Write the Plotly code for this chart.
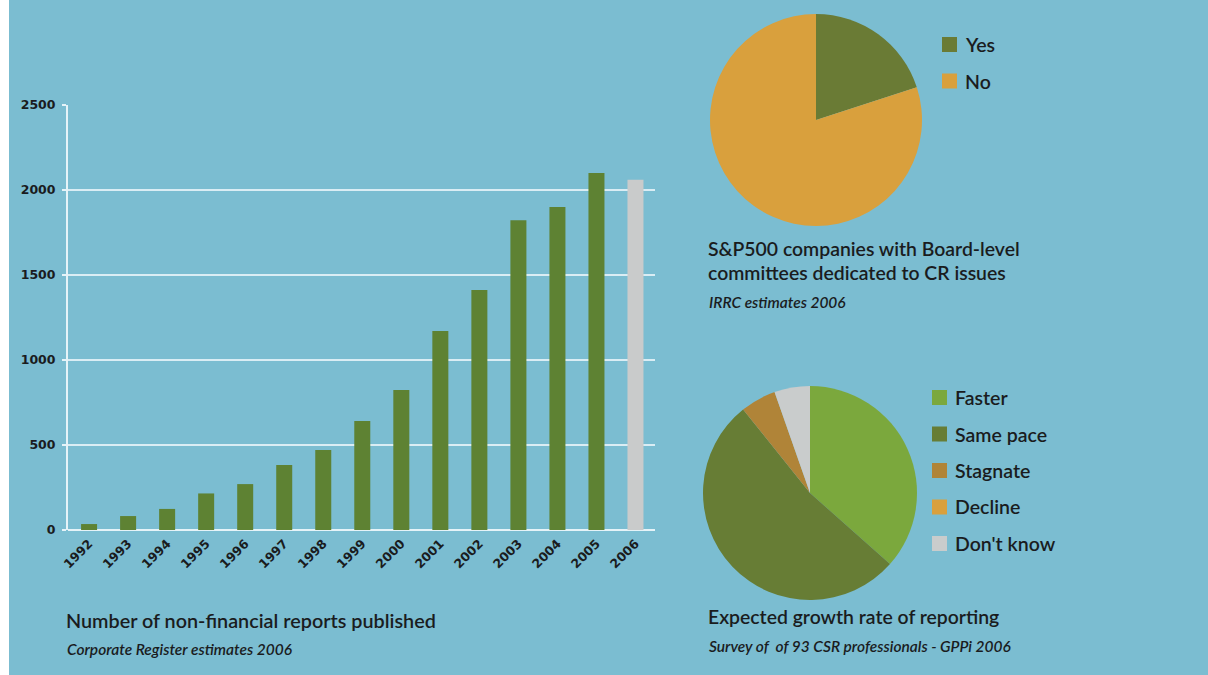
import plotly.graph_objects as go

W, H = 1208, 675

# ---- data ----
years = ["1992", "1993", "1994", "1995", "1996", "1997", "1998", "1999",
         "2000", "2001", "2002", "2003", "2004", "2005", "2006"]
reports = [35, 82, 124, 215, 270, 382, 470, 641, 824, 1170, 1412, 1822, 1900, 2100, 2060]
bar_colors = ["#5E8233"] * 14 + ["#C9CBCB"]

board_labels = ["Yes", "No"]
board_values = [20, 80]
board_colors = ["#6A7B35", "#D9A03D"]

growth_labels = ["Faster", "Same pace", "Stagnate", "Decline", "Don't know"]
growth_values = [34, 49, 5, 0, 5]
growth_colors = ["#7BA83D", "#677D35", "#B08438", "#D9A03D", "#C9CCCC"]

BG = "#7BBDD1"
TXT = "#1A1C1E"
FONT = "Lato"


def px(x):
    return x / W


def py(y):
    return 1 - y / H


fig = go.Figure()

fig.add_trace(go.Bar(
    x=years, y=reports, marker=dict(color=bar_colors, line=dict(width=0)),
    width=0.41, showlegend=False, hoverinfo="skip",
))

fig.add_trace(go.Pie(
    labels=board_labels, values=board_values, sort=False, direction="clockwise",
    rotation=0, marker=dict(colors=board_colors, line=dict(width=0)),
    textinfo="none", showlegend=False, hoverinfo="skip", automargin=False,
    domain=dict(x=[px(710), px(922)], y=[py(226), py(14)]),
))

fig.add_trace(go.Pie(
    labels=growth_labels, values=growth_values, sort=False, direction="clockwise",
    rotation=0, marker=dict(colors=growth_colors, line=dict(width=0)),
    textinfo="none", showlegend=False, hoverinfo="skip", automargin=False,
    domain=dict(x=[px(703), px(917)], y=[py(600), py(386)]),
))

fig.update_layout(
    width=W, height=H,
    margin=dict(l=0, r=0, t=0, b=0, autoexpand=False),
    paper_bgcolor=BG, plot_bgcolor=BG,
    font=dict(family=FONT, color=TXT),
    bargap=0.5,
    xaxis=dict(
        domain=[px(68), px(655)], range=[-0.54, 14.5], automargin=False,
        type="category", tickangle=-45,
        showgrid=False, showline=False, zeroline=False,
        ticks="", ticklabelstandoff=3,
        tickfont=dict(family="DejaVu Sans", size=12.5, color=TXT, weight="bold"),
    ),
    yaxis=dict(
        domain=[py(530), py(105)], range=[0, 2500], automargin=False,
        tickvals=[0, 500, 1000, 1500, 2000, 2500],
        showgrid=True, gridcolor="rgba(235,246,250,0.85)", gridwidth=2,
        showline=True, linecolor="rgba(235,246,250,0.95)", linewidth=2,
        zeroline=True, zerolinecolor="rgba(235,246,250,0.95)", zerolinewidth=2,
        ticks="outside", ticklen=4, tickcolor="rgba(235,246,250,0.95)", tickwidth=2,
        ticklabelstandoff=4,
        tickfont=dict(family="DejaVu Sans", size=12.5, color=TXT, weight="bold"),
    ),
)

shapes = [dict(type="rect", xref="paper", yref="paper", x0=0, x1=px(9), y0=0, y1=1,
               fillcolor="white", line=dict(width=0), layer="above")]
annotations = []


def legend(labels, colors, x0, y0, step):
    for i, (lab, col) in enumerate(zip(labels, colors)):
        yc = y0 + i * step
        shapes.append(dict(type="rect", xref="paper", yref="paper",
                           x0=px(x0), x1=px(x0 + 15), y0=py(yc + 7.5), y1=py(yc - 7.5),
                           fillcolor=col, line=dict(width=0)))
        annotations.append(dict(text=lab, x=px(x0 + 21), y=py(yc), xref="paper", yref="paper",
                                xanchor="left", yanchor="middle", showarrow=False,
                                font=dict(size=19.5, color=TXT, family=FONT, weight=600)))


legend(board_labels, board_colors, 942, 44.5, 36.5)
legend(growth_labels, growth_colors, 932, 397.5, 36.5)


def text(t, x, y, size, italic=False, weight=600):
    annotations.append(dict(text=t, x=px(x), y=py(y), xref="paper", yref="paper",
                            xanchor="left", yanchor="middle", showarrow=False, align="left",
                            font=dict(size=size, color=TXT, family=FONT, weight=weight,
                                      style="italic" if italic else "normal")))


text("Number of non-financial reports published", 64, 620, 19.8)
text("Corporate Register estimates 2006", 65, 649, 15.5, italic=True)
text("S&P500 companies with Board-level", 706, 248, 19.4)
text("committees dedicated to CR issues", 706, 272, 19.4)
text("IRRC estimates 2006", 707, 302, 15.5, italic=True)
text("Expected growth rate of reporting", 706, 616, 19.4)
text("Survey of  of 93 CSR professionals - GPPi 2006", 707, 646, 15.5, italic=True)

fig.update_layout(shapes=shapes, annotations=annotations)

fig.write_html(
    "out.html",
    config={"displayModeBar": False},
    post_script="document.body.style.margin='0';",
)
